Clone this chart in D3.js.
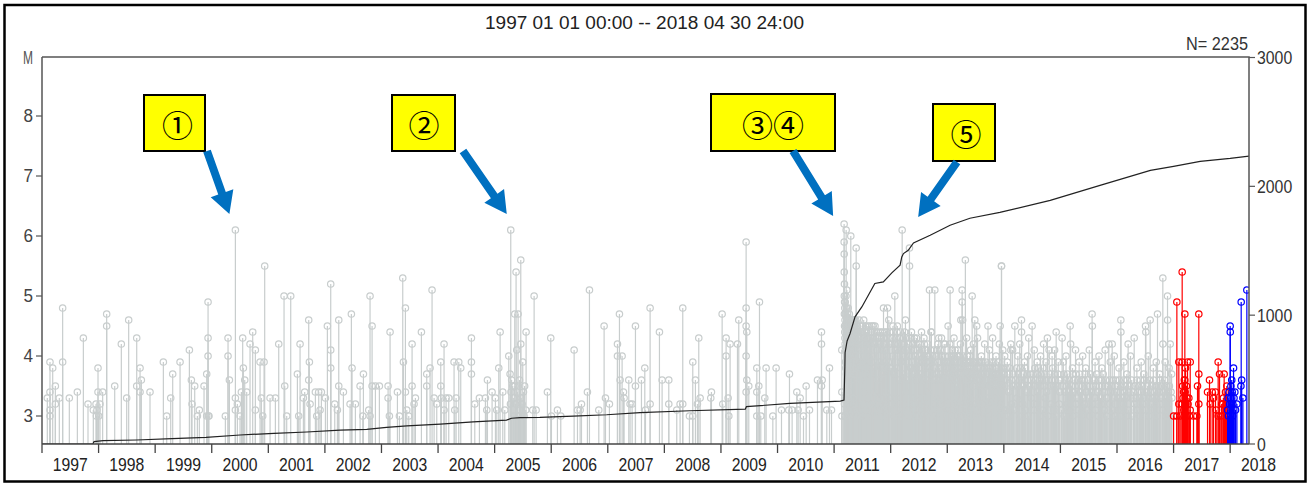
<!DOCTYPE html>
<html>
<head>
<meta charset="utf-8">
<script src="https://cdn.jsdelivr.net/npm/d3@7"></script>
<style>
  html, body { margin: 0; padding: 0; background: #fff; }
  svg { display: block; }
</style>
</head>
<body>
<svg id="chart" width="1309" height="484"></svg>
<script>
// ---- Earthquake list: per calendar year, [fraction of year, magnitude] ----
const m1997 = [[.094,3.3],[.141,3.9],[.141,3.4],[.141,3.1],[.141,3.0],[.189,3.8],[.236,3.5],[.236,3.2],[.306,3.3],[.365,4.8],[.365,3.9],[.483,3.3],[.625,3.4],[.731,4.3],[.813,3.2],[.907,3.1],[.955,3.2],[.962,3.0],[.971,3.1],[.990,3.8],[.990,3.4]];
const m1998 = [[.002,3.0],[.025,3.2],[.072,3.4],[.143,4.7],[.143,4.5],[.285,3.5],[.402,4.2],[.497,3.3],[.532,4.6],[.674,4.3],[.674,3.5],[.733,3.8],[.733,3.4],[.756,3.6],[.909,3.4]];
const m1999 = [[.145,3.9],[.204,3.0],[.275,3.3],[.310,3.7],[.440,3.9],[.605,4.1],[.640,3.6],[.652,3.2],[.699,3.5],[.746,3.0],[.781,3.1],[.864,3.5],[.911,3.0],[.911,3.7],[.935,4.9],[.935,4.3],[.935,4.0],[.942,3.0],[.951,3.0]];
const m2000 = [[.241,3.0],[.288,4.3],[.288,4.0],[.312,3.6],[.418,6.1],[.418,3.3],[.418,3.1],[.453,3.2],[.500,3.0],[.524,3.4],[.547,4.3],[.559,3.8],[.583,3.6],[.618,3.4],[.677,4.2],[.724,4.4],[.771,4.1],[.771,3.1],[.854,3.9],[.877,3.3],[.901,3.0],[.925,3.9],[.936,5.5]];
const m2001 = [[.031,3.3],[.125,3.3],[.184,4.2],[.278,5.0],[.290,3.5],[.325,3.0],[.396,5.0],[.514,3.7],[.537,3.0],[.561,4.2],[.620,3.3],[.643,3.4],[.714,4.6],[.714,3.6],[.726,3.9],[.738,3.2],[.832,3.4],[.856,3.0],[.891,3.4],[.915,3.1],[.938,3.4]];
const m2002 = [[.009,3.3],[.044,4.5],[.103,5.2],[.103,4.1],[.103,3.8],[.174,3.2],[.221,3.1],[.245,4.6],[.245,3.5],[.327,3.4],[.445,3.2],[.468,4.7],[.480,3.8],[.539,3.2],[.622,3.5],[.669,3.0],[.681,3.7],[.775,3.1],[.798,5.0],[.798,3.0],[.834,4.5],[.834,3.5],[.893,3.5],[.963,3.5]];
const m2003 = [[.117,3.5],[.117,3.3],[.140,3.0],[.152,4.4],[.282,3.4],[.317,3.0],[.376,5.3],[.388,3.9],[.423,4.8],[.423,3.4],[.447,3.1],[.482,3.0],[.541,4.2],[.541,3.5],[.576,3.2],[.600,3.3],[.706,4.4],[.800,3.7],[.800,3.5],[.859,3.8],[.894,5.1],[.930,3.3],[.977,3.2]];
const m2004 = [[.048,3.9],[.048,3.5],[.059,3.3],[.106,4.2],[.106,3.1],[.142,3.3],[.189,3.3],[.283,3.9],[.295,3.1],[.319,3.3],[.366,3.9],[.401,3.8],[.590,4.3],[.590,3.9],[.590,3.7],[.649,3.2],[.731,3.3],[.837,3.3],[.861,3.1],[.873,3.6],[.955,3.4]];
const m2005 = [[.014,3.3],[.038,3.1],[.073,3.8],[.097,4.4],[.144,3.4],[.179,3.1],[.250,4.0],[.273,3.7],[.280,3.2],[.285,6.1],[.290,3.4],[.300,3.6],[.320,3.5],[.330,3.3],[.340,3.0],[.356,4.7],[.360,3.5],[.370,3.2],[.379,5.4],[.391,4.1],[.400,3.4],[.415,4.7],[.420,3.0],[.440,3.6],[.450,3.1],[.462,5.6],[.462,4.2],[.470,3.3],[.486,3.2],[.497,3.9],[.509,3.4],[.520,3.0],[.530,3.5],[.550,3.1],[.556,4.4],[.674,3.1],[.698,5.0],[.733,3.1],[.933,3.4],[.992,4.3]];
const m2006 = [[.004,3.0],[.110,3.1],[.169,3.0],[.405,4.1],[.464,3.1],[.511,3.1],[.535,3.2],[.640,3.4],[.676,5.1],[.841,3.1],[.935,4.5],[.959,3.3]];
const m2007 = [[.029,3.2],[.171,4.2],[.171,4.0],[.206,4.7],[.218,3.6],[.253,4.0],[.277,3.4],[.288,3.3],[.371,3.6],[.394,3.2],[.430,3.2],[.489,4.5],[.489,3.5],[.595,3.6],[.654,3.8],[.666,3.1],[.748,4.8],[.748,3.2],[.913,4.4],[.960,3.6]];
const m2008 = [[.078,3.6],[.078,3.2],[.219,3.1],[.278,3.2],[.325,4.8],[.325,3.2],[.443,3.0],[.502,3.9],[.502,3.0],[.549,3.6],[.584,3.2],[.608,4.3],[.632,3.3],[.820,3.3],[.832,3.4]];
const m2009 = [[.021,4.7],[.032,3.2],[.091,4.3],[.091,4.0],[.127,3.3],[.139,3.0],[.162,4.2],[.292,4.2],[.315,4.6],[.445,5.9],[.445,4.8],[.445,4.5],[.457,4.4],[.445,4.0],[.457,3.6],[.445,3.4],[.492,3.5],[.634,3.8],[.634,3.4],[.634,3.0],[.669,3.5],[.681,4.9],[.704,3.0],[.775,3.3],[.798,3.8],[.917,3.0],[.975,3.8]];
const m2010 = [[.070,3.1],[.199,3.1],[.211,3.7],[.258,3.1],[.341,3.4],[.364,3.1],[.400,3.3],[.459,3.0],[.506,3.5],[.565,3.1],[.706,3.6],[.777,4.4],[.777,4.2],[.777,3.5],[.789,3.6],[.871,3.1],[.918,3.8],[.954,3.1]];
const m2011 = [[.136,4.1],[.137,3.4],[.139,3.0],
  [.177,6.2],[.178,5.9],[.179,5.7],[.180,5.4],[.181,5.0],[.182,4.7],[.183,5.2],[.185,4.5],[.186,4.9],[.188,4.4],[.189,4.8],[.191,4.3],[.193,4.6],[.195,4.2],[.197,4.9],[.199,4.1],[.201,4.7],[.203,3.9],[.205,4.5],[.207,3.8],[.209,5.0],[.211,4.4],[.213,6.1],[.215,4.3],[.217,4.8],[.219,3.7],[.221,4.6],[.223,4.2],[.225,5.1],[.227,4.0],[.229,4.5],[.231,3.6],[.233,4.7],[.235,4.1],[.237,4.4],[.240,3.9],[.243,4.6],[.246,4.3],[.249,4.8],[.252,3.5],[.255,4.5],[.258,4.2],[.261,4.6],[.264,3.8],[.267,4.4],[.270,4.7],[.273,4.0],[.276,4.5],[.279,3.7],[.282,4.3],[.285,4.6],[.288,4.1],[.291,4.4],[.295,6.0],[.298,4.2],[.301,4.5],[.304,3.9],[.307,4.6],[.310,4.3],[.313,3.6],[.316,4.5],[.319,4.2],[.322,4.6],[.325,4.0],[.328,4.4],[.331,3.8],[.334,4.5],[.337,4.2],[.340,4.6],[.343,3.9],[.346,4.4],[.349,4.1],[.352,4.5],[.355,3.7],[.358,4.3],[.361,4.6],[.364,4.0],[.367,4.4],[.370,4.2],[.373,4.5],[.376,3.8],[.379,4.3],[.382,4.6],[.385,4.1],[.390,5.8],[.391,5.5],[.394,4.4],[.397,3.9],
  [.403,4.2],[.411,4.5],[.419,3.8],[.427,4.4],[.435,4.1],[.443,4.6],[.451,3.9],[.459,4.3],[.467,4.5],[.475,3.6],[.483,4.4],[.491,4.2],[.499,4.5],[.507,3.9],[.515,4.3],[.523,4.6],[.531,4.0],[.539,4.4],[.547,3.7],[.555,4.5],[.563,4.2],[.571,4.4],[.579,3.8],[.587,4.3],[.595,4.5],[.603,4.1],[.611,4.4],[.619,3.9],[.627,4.5],[.635,4.2],[.643,4.3],[.651,3.7],[.659,4.4],[.667,4.5],[.675,4.0],[.683,4.3],[.691,4.5],[.699,3.8],[.707,4.4],[.715,4.2],[.723,4.5],[.731,3.9],[.739,4.3],[.747,4.4],[.755,4.1],[.763,4.3],[.771,3.6],[.779,4.4],[.787,4.2],[.795,4.3],[.803,3.9],[.811,4.2],[.819,4.4],[.827,3.8],[.835,4.3],[.843,4.1],[.851,4.4],[.859,3.7],[.867,4.2],[.873,4.8],[.881,4.3],[.889,3.9],[.897,4.4],[.905,4.1],[.913,4.2],[.921,3.8],[.929,4.4],[.937,4.0],[.944,4.8],[.952,4.3],[.960,3.9],[.967,4.6],[.975,4.2],[.983,4.4],[.991,3.8],
  [.184,3.2],[.196,3.0],[.214,3.3],[.232,3.1],[.251,3.4],[.274,3.0],[.297,3.2],[.318,3.1],[.339,3.3],[.362,3.0],[.388,3.2],[.415,3.1],[.446,3.3],[.472,3.0],[.503,3.2],[.529,3.4],[.561,3.1],[.588,3.0],[.617,3.3],[.646,3.2],[.679,3.1],[.708,3.4],[.736,3.0],[.769,3.2],[.798,3.3],[.826,3.1],[.858,3.0],[.884,3.2],[.917,3.4],[.946,3.1],[.978,3.3]];
const m2012 = [[.005,4.2],[.015,3.8],[.025,4.3],[.035,4.0],[.045,4.4],[.055,3.7],[.065,4.2],[.073,5.0],[.083,4.1],[.093,4.3],[.103,3.8],[.113,4.4],[.123,4.0],[.133,4.2],[.143,3.6],[.153,4.3],[.163,4.1],[.173,4.4],[.183,3.9],[.193,4.2],[.203,6.1],[.210,4.0],[.220,4.3],[.230,3.7],[.240,4.2],[.250,4.0],[.261,4.6],[.270,3.9],[.280,4.3],[.290,4.1],[.300,3.6],[.310,4.2],[.320,4.0],[.332,5.8],[.333,5.5],[.340,4.3],[.350,3.8],[.360,4.1],[.370,4.3],[.380,3.9],[.390,4.2],[.400,3.7],[.410,4.1],[.420,4.3],[.430,3.8],[.440,4.0],[.450,4.2],[.460,3.6],[.470,4.1],[.480,3.9],[.490,4.2],[.500,3.8],[.510,4.0],[.520,4.2],[.530,3.7],[.545,4.4],[.555,3.9],[.565,4.1],[.575,3.6],[.585,4.0],[.595,4.2],[.605,3.8],[.615,4.1],[.625,3.9],[.635,4.0],[.645,3.6],[.655,4.2],[.665,3.8],[.675,4.0],[.686,5.1],[.695,3.9],[.705,4.1],[.720,4.4],[.730,3.7],[.740,4.0],[.750,3.9],[.760,4.1],[.770,3.6],[.780,5.1],[.790,3.8],[.800,4.0],[.810,3.7],[.820,4.1],[.830,3.9],[.840,3.6],[.850,4.3],[.860,3.8],[.875,4.1],[.885,3.7],[.895,4.0],[.905,3.8],[.915,4.0],[.925,3.6],[.935,3.9],[.945,4.2],[.955,3.7],[.965,4.0],[.975,3.8],[.985,3.9],[.995,3.6],
  [.021,3.2],[.058,3.0],[.101,3.3],[.139,3.1],[.178,3.0],[.224,3.2],[.263,3.4],[.302,3.1],[.341,3.0],[.384,3.3],[.422,3.2],[.463,3.0],[.504,3.1],[.542,3.3],[.581,3.0],[.622,3.2],[.661,3.4],[.703,3.1],[.742,3.0],[.784,3.2],[.822,3.3],[.863,3.1],[.902,3.0],[.941,3.2],[.981,3.1],
  [.041,4.5],[.118,4.5],[.246,4.4],[.367,4.4],[.456,4.3],[.588,4.3],[.712,4.4],[.835,4.2],[.898,4.3],[.962,4.2]];
const m2013 = [[.008,3.9],[.015,4.5],[.022,3.7],[.030,4.0],[.038,3.8],[.050,5.1],[.058,3.9],[.066,3.6],[.074,4.0],[.082,3.8],[.090,4.1],[.098,3.7],[.106,3.9],[.114,4.0],[.122,3.6],[.130,3.9],[.138,4.1],[.146,3.7],[.154,3.9],[.162,3.5],[.170,4.0],[.178,3.8],[.186,3.9],[.194,3.6],[.202,4.0],[.210,3.8],[.218,3.7],[.226,4.0],[.240,4.6],[.248,3.8],[.256,3.9],[.263,5.1],[.264,4.9],[.272,4.6],[.280,3.8],[.288,4.0],[.296,3.6],[.304,3.9],[.312,3.8],[.320,5.6],[.328,3.7],[.336,3.9],[.344,3.6],[.352,4.0],[.360,3.8],[.368,3.7],[.376,3.9],[.384,3.5],[.392,3.8],[.400,4.0],[.408,3.7],[.416,3.9],[.424,3.6],[.432,3.8],[.440,5.0],[.448,3.7],[.456,3.9],[.464,3.5],[.472,3.8],[.487,4.6],[.495,3.7],[.503,3.9],[.511,3.6],[.520,4.5],[.528,3.8],[.536,3.7],[.544,3.9],[.552,3.5],[.560,3.8],[.568,3.6],[.576,3.9],[.584,3.7],[.592,3.8],[.600,3.5],[.608,3.9],[.616,3.7],[.624,3.6],[.632,3.9],[.640,3.7],[.648,3.8],[.656,3.5],[.664,3.8],[.672,3.6],[.680,3.9],[.688,3.7],[.696,3.5],[.704,3.8],[.720,4.5],[.728,3.6],[.736,3.8],[.744,3.7],[.752,3.5],[.760,3.8],[.768,3.6],[.776,3.9],[.784,3.7],[.792,3.5],[.800,3.8],[.808,3.6],[.816,3.7],[.824,3.9],[.832,3.5],[.840,3.7],[.848,3.8],[.856,3.6],[.864,3.7],[.872,3.5],[.880,3.8],[.888,3.6],[.896,3.7],[.904,3.9],[.912,3.5],[.920,3.7],[.935,4.5],[.943,3.6],[.950,3.8],[.958,5.5],[.959,5.5],[.966,3.7],[.974,3.5],[.982,3.8],[.990,3.6],[.998,3.7],
  [.033,3.1],[.071,3.3],[.112,3.0],[.149,3.2],[.193,3.1],[.231,3.3],[.269,3.0],[.314,3.2],[.352,3.1],[.391,3.3],[.433,3.0],[.471,3.2],[.512,3.1],[.553,3.3],[.589,3.0],[.633,3.2],[.671,3.1],[.712,3.3],[.751,3.0],[.793,3.2],[.831,3.1],[.872,3.3],[.911,3.0],[.951,3.2],[.992,3.1],
  [.044,4.2],[.118,4.3],[.183,4.1],[.233,4.2],[.342,4.3],[.413,4.1],[.462,4.2],[.535,4.3],[.602,4.0],[.661,4.2],[.745,4.1],[.801,4.3],[.862,4.0],[.921,4.2],[.981,4.1]];
const m2014 = [[.006,3.7],[.022,3.5],[.038,3.8],[.054,3.6],[.070,3.7],[.086,3.4],[.102,3.8],[.123,4.2],[.124,4.1],[.140,3.6],[.156,3.7],[.172,3.5],[.194,4.5],[.210,3.6],[.226,3.8],[.242,3.5],[.258,3.7],[.274,3.6],[.290,3.8],[.312,4.6],[.313,4.4],[.330,3.5],[.346,3.7],[.362,3.6],[.378,3.8],[.394,3.4],[.410,3.7],[.426,3.6],[.440,4.3],[.456,3.5],[.472,3.7],[.488,3.6],[.500,4.5],[.516,3.7],[.532,3.5],[.548,3.8],[.564,3.6],[.580,3.7],[.596,3.4],[.612,3.8],[.628,3.6],[.644,3.5],[.660,3.7],[.676,3.6],[.692,3.8],[.708,3.5],[.724,3.7],[.740,3.6],[.756,3.4],[.770,4.3],[.786,3.6],[.800,4.1],[.816,3.7],[.832,3.5],[.848,3.6],[.864,3.8],[.880,3.5],[.896,3.7],[.912,3.6],[.925,4.4],[.940,3.5],[.956,3.7],[.972,3.6],[.988,3.4],
  [.031,3.1],[.079,3.0],[.133,3.2],[.181,3.1],[.234,3.3],[.279,3.0],[.334,3.2],[.383,3.1],[.431,3.0],[.483,3.3],[.534,3.1],[.579,3.2],[.633,3.0],[.684,3.1],[.731,3.3],[.779,3.0],[.834,3.2],[.881,3.1],[.933,3.0],[.979,3.2],
  [.015,4.0],[.061,3.9],[.155,4.1],[.247,4.0],[.281,4.2],[.365,3.9],[.418,4.0],[.537,4.1],[.588,3.9],[.648,4.0],[.702,4.2],[.745,3.9],[.853,4.0],[.897,4.1],[.962,3.9]];
const m2015 = [[.010,3.6],[.030,4.3],[.046,3.5],[.062,3.7],[.078,3.4],[.094,3.6],[.110,3.5],[.126,3.7],[.142,3.4],[.158,3.6],[.172,4.5],[.180,4.2],[.196,3.5],[.212,3.7],[.228,3.4],[.244,3.6],[.260,3.5],[.276,3.7],[.292,3.3],[.308,3.6],[.324,3.5],[.340,3.7],[.356,3.4],[.372,3.6],[.388,3.5],[.404,3.3],[.420,3.6],[.436,3.7],[.452,3.4],[.468,3.5],[.484,3.6],[.500,3.3],[.516,3.5],[.532,3.7],[.548,3.4],[.560,4.7],[.565,4.5],[.580,3.5],[.596,3.6],[.612,3.3],[.628,3.5],[.644,3.7],[.660,3.4],[.676,3.6],[.692,3.5],[.708,3.3],[.724,3.6],[.740,3.5],[.756,3.7],[.772,3.4],[.788,3.5],[.804,3.6],[.820,3.3],[.836,3.5],[.855,4.2],[.870,3.6],[.886,3.4],[.902,3.5],[.915,4.2],[.930,3.6],[.946,3.3],[.962,3.5],[.978,3.6],[.994,3.4],
  [.021,3.1],[.068,3.0],[.123,3.2],[.171,3.1],[.219,3.0],[.273,3.2],[.318,3.1],[.369,3.0],[.421,3.2],[.472,3.1],[.519,3.0],[.571,3.2],[.622,3.1],[.668,3.0],[.721,3.2],[.773,3.1],[.818,3.0],[.871,3.2],[.921,3.1],[.969,3.0],
  [.051,3.9],[.099,4.0],[.214,3.8],[.267,4.1],[.331,3.9],[.393,4.0],[.447,3.8],[.511,4.1],[.613,3.9],[.682,4.0],[.733,3.8],[.791,4.1],[.882,3.9],[.952,4.0]];
const m2016 = [[.008,3.5],[.024,3.3],[.040,3.6],[.056,3.4],[.068,4.6],[.069,4.4],[.084,3.5],[.100,3.3],[.116,3.6],[.132,3.4],[.148,3.5],[.164,3.3],[.180,3.6],[.197,4.2],[.212,3.4],[.228,3.5],[.244,3.3],[.260,3.6],[.290,3.4],[.304,4.3],[.320,3.5],[.336,3.3],[.352,3.6],[.368,3.4],[.384,3.5],[.400,3.3],[.416,3.6],[.432,3.4],[.448,3.5],[.464,3.3],[.480,3.6],[.504,4.5],[.510,4.4],[.526,3.4],[.542,3.5],[.558,3.3],[.574,3.6],[.586,4.6],[.600,3.4],[.616,3.5],[.632,3.3],[.648,3.6],[.664,3.4],[.680,3.5],[.696,3.3],[.716,4.7],[.730,3.5],[.746,3.4],[.762,3.6],[.778,3.3],[.794,3.5],[.810,5.3],[.811,4.2],[.826,3.4],[.842,3.6],[.858,3.3],[.874,3.5],[.893,5.0],[.894,4.6],[.910,3.4],[.926,3.5],[.940,4.2],[.956,3.4],[.970,3.3],
  [.016,3.1],[.061,3.0],[.109,3.2],[.158,3.0],[.207,3.1],[.262,3.0],[.312,3.2],[.361,3.1],[.409,3.0],[.459,3.2],[.513,3.1],[.561,3.0],[.611,3.2],[.659,3.1],[.709,3.0],[.759,3.2],[.813,3.1],[.861,3.0],[.909,3.2],[.959,3.0],
  [.035,3.8],[.121,3.9],[.173,3.7],[.238,4.0],[.351,3.8],[.428,3.9],[.473,3.7],[.553,4.0],[.642,3.8],[.694,3.9],[.754,3.7],[.851,3.9],[.921,3.8],[.965,3.7]];

const grayYears = [
  [1997, m1997], [1998, m1998], [1999, m1999], [2000, m2000], [2001, m2001],
  [2002, m2002], [2003, m2003], [2004, m2004], [2005, m2005], [2006, m2006],
  [2007, m2007], [2008, m2008], [2009, m2009], [2010, m2010], [2011, m2011],
  [2012, m2012], [2013, m2013], [2014, m2014], [2015, m2015], [2016, m2016]
];

// Recent periods (decimal year, magnitude)
const recentRed = [[2017.000,3.0],[2017.058,4.9],[2017.058,3.0],[2017.093,3.9],[2017.093,3.2],[2017.117,3.0],[2017.152,5.4],[2017.152,3.9],[2017.152,3.2],[2017.160,3.5],[2017.168,3.3],[2017.176,3.4],[2017.180,3.1],[2017.188,3.0],[2017.190,3.6],[2017.199,4.7],[2017.199,3.6],[2017.205,3.4],[2017.211,3.8],[2017.211,3.2],[2017.220,3.0],[2017.228,3.5],[2017.235,3.3],[2017.246,3.9],[2017.256,3.2],[2017.270,3.3],[2017.280,3.0],[2017.294,3.9],[2017.294,3.1],[2017.352,3.0],[2017.411,3.0],[2017.423,3.5],[2017.446,4.7],[2017.446,3.7],[2017.446,3.2],[2017.600,3.4],[2017.635,3.6],[2017.647,3.2],[2017.682,3.4],[2017.706,3.3],[2017.741,3.4],[2017.753,3.1],[2017.788,3.9],[2017.788,3.0],[2017.812,3.7],[2017.835,3.0],[2017.850,3.2],[2017.871,3.2],[2017.880,3.3],[2017.894,3.7],[2017.900,3.1],[2017.918,3.4],[2017.925,3.2],[2017.935,3.0],[2017.941,3.5]];
const recentBlue = [[2017.955,3.1],[2017.962,3.3],[2017.970,3.0],[2017.978,3.4],[2017.990,3.2],[2018.000,4.5],[2018.002,4.4],[2018.008,3.3],[2018.013,3.5],[2018.020,3.2],[2018.028,3.6],[2018.036,3.4],[2018.044,3.0],[2018.048,3.2],[2018.060,3.8],[2018.068,3.3],[2018.083,3.4],[2018.095,3.1],[2018.119,3.2],[2018.190,3.5],[2018.195,4.9],[2018.204,3.6],[2018.225,3.3],[2018.295,5.1]];

// Cumulative number of events
const cumYears  = [1997.0,1997.9,1997.92,1998.08,1998.67,1999.3,1999.9,2000.5,2001.1,2001.68,2002.27,2002.74,2003.09,2003.45,2004.04,2004.62,2005.21,2005.3,2005.45,2005.8,2006.39,2006.98,2007.57,2008.45,2009.43,2009.45,2010.22,2011.11,2011.175,2011.19,2011.194,2011.23,2011.282,2011.37,2011.49,2011.72,2011.87,2012.02,2012.166,2012.196,2012.226,2012.31,2012.403,2012.698,2013.05,2013.4,2013.93,2014.82,2015.7,2016.59,2017.0,2017.47,2018.0,2018.333];
const cumCounts = [0,2,18,26,31,41,52,70,83,93,108,114,129,140,155,171,186,200,205,207,217,227,243,258,270,290,315,333,341,600,710,800,858,987,1064,1246,1258,1328,1388,1452,1478,1504,1560,1620,1698,1752,1798,1891,2008,2124,2155,2194,2217,2235];
const totalN = 2235;

// Axis labels
const periodText = "1997 01 01 00:00 -- 2018 04 30 24:00";
const magTicks = [3, 4, 5, 6, 7, 8];
const countTicks = [0, 1000, 2000, 3000];
const yearTicks = d3.range(1997, 2019);

// Annotations: label, target event (year, magnitude), box and arrow geometry
const callouts = [
  { text: "①", box: [144, 95, 61, 56],  tx: 177.5, ty: 123, from: [207, 151], ev: [2000.418, 6.1], off: [-6, -16] },
  { text: "②", box: [392, 95, 63, 56],  tx: 424,   ty: 123, from: [463, 151], ev: [2005.285, 6.1], off: [-4, -16] },
  { text: "③④", box: [711, 94, 124, 57], tx: 773,  ty: 123, from: [793, 151], ev: [2011.177, 6.2], off: [-11, -8] },
  { text: "⑤", box: [933, 104, 62, 57], tx: 966,   ty: 132, from: [957, 162], ev: [2012.203, 6.1], off: [16, -13] }
];

// ---- Drawing ----
const svg = d3.select("#chart");
const plot = { left: 42, right: 1249, top: 57, bottom: 444 };

const x = d3.scaleLinear().domain([1997, 2018.333]).range([plot.left, plot.right]);
const yM = d3.scaleLinear().domain([2.5333, 8.9833]).range([plot.bottom, plot.top]);
const yN = d3.scaleLinear().domain([0, 3000]).range([plot.bottom, plot.top + 0.5]);

const FONT = "'Liberation Sans', Arial, sans-serif";

function label(g, s, px, py, size, len, anchor, fill) {
  return g.append("text")
    .attr("x", px).attr("y", py)
    .attr("font-family", FONT).attr("font-size", size)
    .attr("text-anchor", anchor || "middle")
    .attr("fill", fill || "#333")
    .attr("textLength", len).attr("lengthAdjust", "spacingAndGlyphs")
    .text(s);
}

// outer frame
svg.append("rect").attr("x", 4.5).attr("y", 5).attr("width", 1301).attr("height", 476.5)
  .attr("fill", "#fff").attr("stroke", "#000").attr("stroke-width", 2.5);

// title and count
label(svg, periodText, 644.5, 29, 18, 319, "middle", "#222");
label(svg, "N= " + totalN, 1248, 50, 18, 62, "end", "#333");
label(svg, "M", 28, 64, 18, 10, "middle", "#555");

// events
const grayEvents = grayYears.flatMap(([yr, arr]) => arr.map(([f, m]) => ({ t: yr + f, m })));
const redEvents = recentRed.map(([t, m]) => ({ t, m }));
const blueEvents = recentBlue.map(([t, m]) => ({ t, m }));

svg.append("clipPath").attr("id", "pc").append("rect")
  .attr("x", plot.left).attr("y", plot.top).attr("width", plot.right - plot.left).attr("height", plot.bottom - plot.top);
const gp = svg.append("g").attr("clip-path", "url(#pc)");

function drawEvents(events, color) {
  const g = gp.append("g");
  g.selectAll("line").data(events).join("line")
    .attr("x1", d => x(d.t)).attr("x2", d => x(d.t))
    .attr("y1", plot.bottom).attr("y2", d => yM(d.m))
    .attr("stroke", color).attr("stroke-width", 1.2);
  g.selectAll("circle").data(events).join("circle")
    .attr("cx", d => x(d.t)).attr("cy", d => yM(d.m)).attr("r", 3.2)
    .attr("fill", "none").attr("stroke", color).attr("stroke-width", 1.2);
}
drawEvents(grayEvents, "#c8cdcd");
drawEvents(redEvents, "#ff0000");
drawEvents(blueEvents, "#0000ff");

// cumulative count line
const cum = cumYears.map((t, i) => [t, cumCounts[i]]);
gp.append("path").datum(cum)
  .attr("d", d3.line().x(d => x(d[0])).y(d => yN(d[1])))
  .attr("fill", "none").attr("stroke", "#222").attr("stroke-width", 1.2);

// plot frame (top and right)
svg.append("path")
  .attr("d", `M${plot.left},${plot.top}H${plot.right}V${plot.bottom}`)
  .attr("fill", "none").attr("stroke", "#555").attr("stroke-width", 1.5);

// left magnitude axis
const gl = svg.append("g");
gl.append("line").attr("x1", plot.left).attr("x2", plot.left).attr("y1", plot.top).attr("y2", plot.bottom)
  .attr("stroke", "#555").attr("stroke-width", 1.5);
magTicks.forEach(v => {
  gl.append("line").attr("x1", plot.left - 6).attr("x2", plot.left).attr("y1", yM(v)).attr("y2", yM(v))
    .attr("stroke", "#555").attr("stroke-width", 1.2);
  label(gl, String(v), 33, yM(v) + 6.5, 18, 9.5, "end", "#444");
});

// right count axis
const gr = svg.append("g");
countTicks.forEach(v => {
  gr.append("line").attr("x1", plot.right).attr("x2", plot.right + 6).attr("y1", yN(v)).attr("y2", yN(v))
    .attr("stroke", "#555").attr("stroke-width", 1.2);
  const s = String(v);
  label(gr, s, 1257, yN(v) + 6.5, 18, s.length * 8.8, "start", "#333");
});

// bottom time axis
const gb = svg.append("g");
gb.append("line").attr("x1", plot.left).attr("x2", plot.right).attr("y1", plot.bottom).attr("y2", plot.bottom)
  .attr("stroke", "#444").attr("stroke-width", 1.5);
yearTicks.forEach(yr => {
  gb.append("line").attr("x1", x(yr)).attr("x2", x(yr)).attr("y1", plot.bottom).attr("y2", plot.bottom + 9)
    .attr("stroke", "#444").attr("stroke-width", 1.3);
  label(gb, String(yr), x(yr + 0.5), 470.5, 19, 35, "middle", "#222");
});

// callouts
const ga = svg.append("g");
function arrowPath(x1, y1, x2, y2) {
  const dx = x2 - x1, dy = y2 - y1, L = Math.hypot(dx, dy);
  const ux = dx / L, uy = dy / L, px = -uy, py = ux;
  const hw = 4, hh = 12, hl = 22;
  const bx = x2 - ux * hl, by = y2 - uy * hl;
  const pts = [
    [x1 + px * hw, y1 + py * hw], [bx + px * hw, by + py * hw], [bx + px * hh, by + py * hh],
    [x2, y2],
    [bx - px * hh, by - py * hh], [bx - px * hw, by - py * hw], [x1 - px * hw, y1 - py * hw]
  ];
  return "M" + pts.map(p => p.join(",")).join("L") + "Z";
}
callouts.forEach(c => {
  const [bx, by, bw, bh] = c.box;
  ga.append("rect").attr("x", bx).attr("y", by).attr("width", bw).attr("height", bh)
    .attr("fill", "#ffff00").attr("stroke", "#000").attr("stroke-width", 2);
  ga.append("text").attr("x", c.tx).attr("y", c.ty)
    .attr("font-family", "'Noto Sans CJK JP', sans-serif").attr("font-size", 31)
    .attr("text-anchor", "middle").attr("dominant-baseline", "central")
    .attr("fill", "#000").text(c.text);
  const tipX = x(c.ev[0]) + c.off[0], tipY = yM(c.ev[1]) + c.off[1];
  ga.append("path").attr("d", arrowPath(c.from[0], c.from[1], tipX, tipY)).attr("fill", "#0070c0");
});
</script>
</body>
</html>
